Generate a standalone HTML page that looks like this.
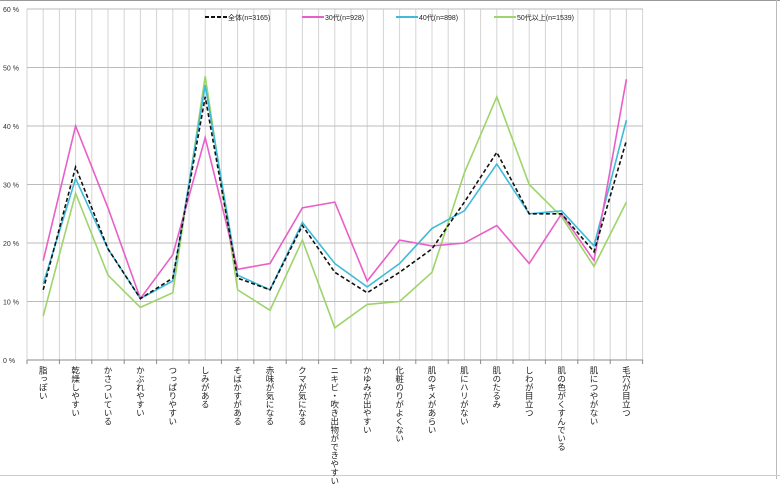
<!DOCTYPE html><html><head><meta charset="utf-8"><style>
body{margin:0;background:#fff;width:780px;height:479px;overflow:hidden;font-family:"Liberation Sans","Noto Sans CJK JP",sans-serif}
.l{position:absolute;top:366px;writing-mode:vertical-rl;font-size:8.5px;color:#222;line-height:10px;white-space:nowrap}
</style></head><body>
<div style="position:absolute;left:0;top:0;width:780px;height:1px;background:#999"></div>
<div style="position:absolute;left:776px;top:0;width:1px;height:479px;background:#bbb"></div>
<div style="position:absolute;left:0;top:475px;width:780px;height:1px;background:#ccc"></div>
<svg width="780" height="479" style="position:absolute;left:0;top:0" font-family="Liberation Sans, Noto Sans CJK JP, sans-serif">
<g id="g"></g>
</svg>
<div id="labels"></div>
<script>
var X0=27,W=32.4,Y0=360,S=5.85;
var s='';
for(var i=0;i<=38;i++){var x=X0+i*W/2;s+='<line x1="'+x+'" y1="9" x2="'+x+'" y2="360" stroke="#d4d4d4" stroke-width="1"/>';}
for(var v=0;v<=60;v+=10){var y=Y0-v*S;s+='<line x1="27" y1="'+y+'" x2="643" y2="'+y+'" stroke="'+(v==0?'#888':'#bbb')+'"/>';s+='<text x="3" y="'+(y+3)+'" font-size="7" fill="#333">'+v+' %</text>';}
for(var i=0;i<=19;i++){var x=X0+i*W;s+='<line x1="'+x+'" y1="360" x2="'+x+'" y2="364" stroke="#888"/>';}
var d=[
[12,33,19,10.5,14,45,14,12,23,15,11.5,15,19,27,35.5,25,25,18.5,37.5],
[17,40,26,10.5,18,38,15.5,16.5,26,27,13.5,20.5,19.5,20,23,16.5,25,17,48],
[13,31,19,10.5,13.5,47,14.5,12,23.5,16.5,12.5,16.5,22.5,25.5,33.5,25,25.5,19.5,41],
[7.5,28.5,14.5,9,11.5,48.5,12,8.5,20.5,5.5,9.5,10,15,32,45,30,24.5,16,27]];
var c=['#111','#e85fc8','#3dbbd8','#9ed46a'];
[3,2,1,0].forEach(function(k){var p=d[k].map(function(v,i){return (X0+W/2+i*W).toFixed(1)+','+(Y0-v*S).toFixed(1)}).join(' ');
s+='<polyline points="'+p+'" fill="none" stroke="'+c[k]+'" stroke-width="1.6"'+(k==0?' stroke-dasharray="4,2.5"':'')+'/>';});
var lg=[[205,'全体(n=3165)'],[302,'30代(n=928)'],[396,'40代(n=898)'],[494,'50代以上(n=1539)']];
lg.forEach(function(a,k){s+='<line x1="'+a[0]+'" y1="17" x2="'+(a[0]+22)+'" y2="17" stroke="'+c[k]+'" stroke-width="2"'+(k==0?' stroke-dasharray="4,2"':'')+'/><text x="'+(a[0]+23)+'" y="20" font-size="7" fill="#222">'+a[1]+'</text>';});
document.getElementById('g').innerHTML=s;
var L=['脂っぽい','乾燥しやすい','かさついている','かぶれやすい','つっぱりやすい','しみがある','そばかすがある','赤味が気になる','クマが気になる','ニキビ・吹き出物ができやすい','かゆみが出やすい','化粧のりがよくない','肌のキメがあらい','肌にハリがない','肌のたるみ','しわが目立つ','肌の色がくすんでいる','肌につやがない','毛穴が目立つ'];
var h='';L.forEach(function(t,i){h+='<div class="l" style="left:'+(X0+W/2+i*W-5)+'px">'+t+'</div>';});
document.getElementById('labels').innerHTML=h;
</script>
</body></html>
